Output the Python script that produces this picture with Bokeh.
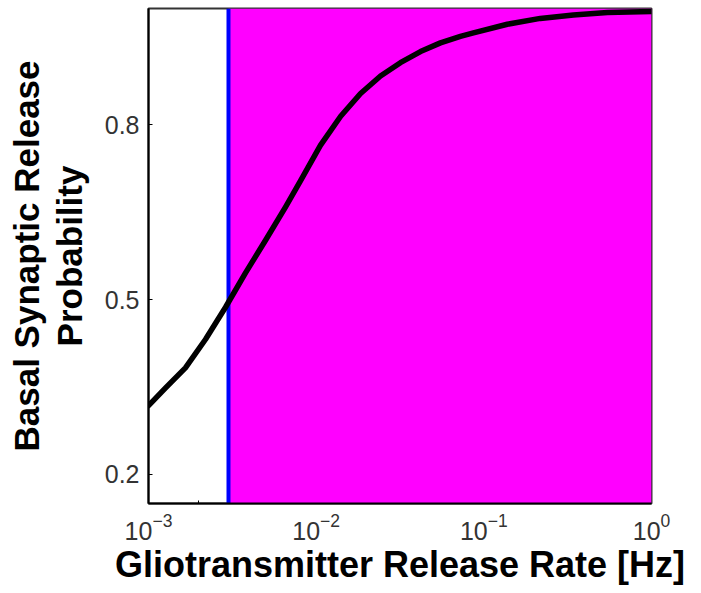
from bokeh.plotting import figure
from bokeh.models import Range1d, FixedTicker, BoxAnnotation, Span
from bokeh.embed import file_html
from bokeh.resources import INLINE

# Data
rate_hz = [1e-3, 1.26e-3, 1.66e-3, 2.19e-3, 2.88e-3, 3.79e-3, 4.99e-3,
           6.56e-3, 8.06e-3, 1.06e-2, 1.40e-2, 1.84e-2, 2.42e-2, 3.18e-2,
           4.19e-2, 5.51e-2, 7.25e-2, 8.67e-2, 0.138, 0.217, 0.342, 0.546, 1.0]
release_prob = [0.318, 0.348, 0.383, 0.432, 0.487, 0.546, 0.602,
                0.659, 0.704, 0.765, 0.815, 0.854, 0.884, 0.907,
                0.926, 0.941, 0.952, 0.958, 0.973, 0.983, 0.989, 0.993, 0.995]
threshold_rate = 3.0e-3

x_ticks = [1e-3, 1e-2, 1e-1, 1.0]
x_minor_ticks = [2e-3]
y_ticks = [0.2, 0.5, 0.8]
y_tick_labels = ["0.2", "0.5", "0.8"]

FONT = "Liberation Sans"

p = figure(frame_width=503, frame_height=495, x_axis_type="log",
           x_range=Range1d(1e-3, 1.0), y_range=Range1d(0.15, 1.0),
           output_backend="svg", toolbar_location=None,
           min_border_left=148, min_border_right=42,
           min_border_top=8, min_border_bottom=0)

p.xgrid.visible = False
p.ygrid.visible = False
p.outline_line_color = "#333333"
p.outline_line_width = 2
p.background_fill_color = "white"
p.border_fill_color = "white"

# magenta region and blue threshold line
p.add_layout(BoxAnnotation(left=threshold_rate, fill_color="#FF00FF",
                           fill_alpha=1.0, line_color=None, level="underlay"))
p.add_layout(Span(location=threshold_rate, dimension="height",
                  line_color="#0000FF", line_width=4, level="underlay"))

p.line(rate_hz, release_prob, line_color="black", line_width=5.5,
       line_join="round", line_cap="round")

# x axis
xa = p.xaxis[0]
xa.ticker = FixedTicker(ticks=x_ticks, minor_ticks=x_minor_ticks)
xa.major_tick_in = 0
xa.major_tick_out = 0
xa.minor_tick_in = 3
xa.minor_tick_out = 0
xa.axis_line_color = "black"
xa.axis_line_width = 2
xa.major_label_text_font = FONT
xa.major_label_text_font_size = "25px"
xa.major_label_text_color = "#333333"
xa.major_label_standoff = 9
xa.axis_label = "Gliotransmitter Release Rate [Hz]"
xa.axis_label_text_font = FONT
xa.axis_label_text_font_style = "bold"
xa.axis_label_text_font_size = "36px"
xa.axis_label_text_color = "black"
xa.axis_label_standoff = 1

# y axis
ya = p.yaxis[0]
ya.ticker = FixedTicker(ticks=y_ticks, minor_ticks=[])
ya.major_label_overrides = {t: l for t, l in zip(y_ticks, y_tick_labels)}
ya.major_tick_in = 4
ya.major_tick_out = 0
ya.minor_tick_in = 0
ya.minor_tick_out = 0
ya.axis_line_color = "black"
ya.axis_line_width = 2
ya.major_label_text_font = FONT
ya.major_label_text_font_size = "25px"
ya.major_label_text_color = "#333333"
ya.major_label_standoff = 9
ya.axis_label = "Basal Synaptic Release\nProbability"
ya.axis_label_text_font = FONT
ya.axis_label_text_font_style = "bold"
ya.axis_label_text_font_size = "35px"
ya.axis_label_text_line_height = 1.1
ya.axis_label_text_color = "black"
ya.axis_label_standoff = 13

out = file_html(p, INLINE)
open("out.html", "w").write(out)
